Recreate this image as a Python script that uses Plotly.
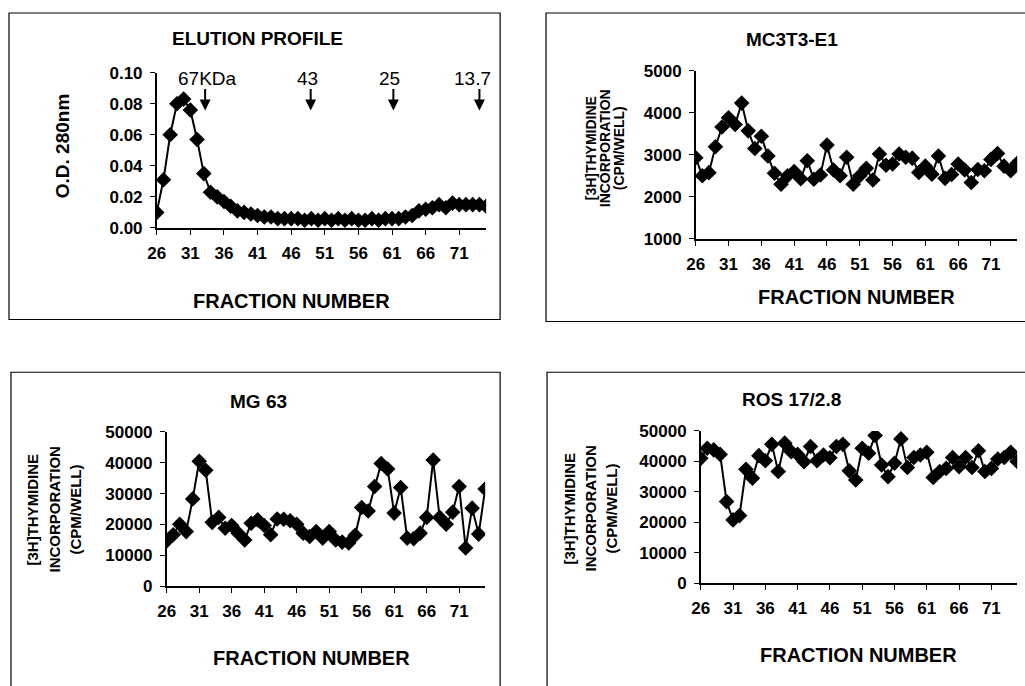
import plotly.graph_objects as go

fractions = list(range(26, 76))
tick_fractions = [26, 31, 36, 41, 46, 51, 56, 61, 66, 71]

od_280 = [0.010, 0.031, 0.060, 0.080, 0.083, 0.076, 0.057, 0.035, 0.023, 0.020,
          0.017, 0.014, 0.011, 0.010, 0.009, 0.008, 0.007, 0.007, 0.006, 0.006,
          0.006, 0.006, 0.005, 0.006, 0.005, 0.006, 0.005, 0.006, 0.005, 0.006,
          0.005, 0.005, 0.006, 0.005, 0.006, 0.006, 0.006, 0.007, 0.008, 0.011,
          0.012, 0.013, 0.015, 0.013, 0.016, 0.015, 0.015, 0.015, 0.015, 0.014]

mc3t3_e1 = [2930, 2500, 2575, 3190, 3660, 3880, 3720, 4230, 3570, 3150,
            3440, 2970, 2560, 2300, 2500, 2600, 2430, 2860, 2420, 2520,
            3230, 2640, 2500, 2940, 2300, 2500, 2680, 2400, 3020, 2750,
            2780, 3020, 2940, 2920, 2580, 2730, 2540, 2970, 2440, 2530,
            2780, 2640, 2340, 2650, 2620, 2890, 3030, 2730, 2620, 2800]

mg_63 = [14700, 16700, 20100, 17700, 28300, 40500, 37600, 20700, 22300, 18800,
         19700, 17200, 15000, 20400, 21500, 19700, 16700, 21800, 21700, 21200,
         20100, 17200, 16100, 17700, 15600, 17700, 15000, 14300, 14000, 16500,
         25500, 24400, 32300, 39800, 38000, 23700, 32000, 15600, 15400, 17200,
         22300, 40900, 22300, 20100, 24000, 32300, 12400, 25300, 16900, 31500]

ros_17_2_8 = [41000, 44300, 43800, 42300, 26800, 20800, 22200, 37400, 34500, 41900,
              40200, 45600, 36700, 46000, 43200, 42300, 39900, 44900, 40200, 42100,
              41200, 44900, 45600, 36900, 33900, 44300, 42700, 48500, 38800, 35000,
              39400, 47400, 38000, 41300, 42100, 43000, 34700, 36700, 37700, 41300,
              38300, 41300, 38000, 43500, 36700, 37700, 40800, 41300, 43000, 40000]

marker_labels = ["67KDa", "43", "25", "13.7"]
marker_fractions = [33.2, 48.9, 61.2, 74.0]

W, H = 1025, 686
FONT = "Arial, Liberation Sans, sans-serif"
OFF, SX, SY = 8, 0.993, 0.977


def px(x):
    return ((x - OFF) / SX) / W


def py(y):
    return 1 - ((y - OFF) / SY) / H


fig = go.Figure()

panels = [
    dict(y=od_280, xd=(156, 486), yd=(72, 228), yr=[0, 0.10],
         yt=[0, 0.02, 0.04, 0.06, 0.08, 0.10], fmt=".2f"),
    dict(y=mc3t3_e1, xd=(696, 1018), yd=(70, 239), yr=[1000, 5000],
         yt=[1000, 2000, 3000, 4000, 5000], fmt="d"),
    dict(y=mg_63, xd=(166, 485), yd=(433, 588), yr=[0, 50000],
         yt=[0, 10000, 20000, 30000, 40000, 50000], fmt="d"),
    dict(y=ros_17_2_8, xd=(701, 1018), yd=(432, 585), yr=[0, 50000],
         yt=[0, 10000, 20000, 30000, 40000, 50000], fmt="d"),
]

layout_axes = {}
for i, p in enumerate(panels, start=1):
    xa = "x" if i == 1 else f"x{i}"
    ya = "y" if i == 1 else f"y{i}"
    fig.add_trace(go.Scatter(
        x=fractions, y=p["y"], xaxis=xa, yaxis=ya, mode="lines+markers",
        line=dict(color="black", width=2),
        marker=dict(symbol="diamond", size=12, color="black"),
        showlegend=False, hoverinfo="skip"))
    xk = "xaxis" if i == 1 else f"xaxis{i}"
    yk = "yaxis" if i == 1 else f"yaxis{i}"
    layout_axes[xk] = dict(
        domain=[px(p["xd"][0]), px(p["xd"][1])], range=[26, 75],
        anchor=ya, showgrid=False, zeroline=False, showline=True,
        linecolor="black", linewidth=1.5, ticks="outside", ticklen=5,
        tickcolor="black", tickvals=tick_fractions,
        ticklabelstandoff=4,
        tickfont=dict(family=FONT, size=17, color="black", weight="bold"))
    layout_axes[yk] = dict(
        domain=[py(p["yd"][1]), py(p["yd"][0])], range=p["yr"],
        anchor=xa, showgrid=False, zeroline=False, showline=True,
        linecolor="black", linewidth=1.5, ticks="outside", ticklen=5,
        tickcolor="black", tickvals=p["yt"], tickformat=p["fmt"],
        ticklabelstandoff=4,
        tickfont=dict(family=FONT, size=17, color="black", weight="bold"))

annotations = []


def text_ann(t, x, y, size, bold=True, angle=0):
    annotations.append(dict(
        text=t, x=px(x), y=py(y), xref="paper", yref="paper",
        showarrow=False, xanchor="center", yanchor="middle", textangle=angle,
        font=dict(family=FONT, size=size, color="black",
                  weight="bold" if bold else "normal")))


# panel titles
text_ann("ELUTION PROFILE", 257, 38, 19)
text_ann("MC3T3-E1", 792, 39, 19)
text_ann("MG 63", 258, 402, 19)
text_ann("ROS 17/2.8", 792, 400, 19)

# x titles
text_ann("FRACTION NUMBER", 291, 301, 20)
text_ann("FRACTION NUMBER", 857, 297, 20)
text_ann("FRACTION NUMBER", 311, 660, 20)
text_ann("FRACTION NUMBER", 859, 657, 20)

# y titles
text_ann("O.D. 280nm", 61, 145, 19, angle=-90)
ylines = ["[3H]THYMIDINE", "INCORPORATION", "(CPM/WELL)"]
for xs, yc, fs in [((591, 605, 619), 148, 14), ((32, 54, 75), 511, 15),
                   ((570, 591, 612), 510, 15)]:
    for t, xx in zip(ylines, xs):
        text_ann(t, xx, yc, fs, angle=-90)

# molecular weight markers on elution profile
label_x = [33.6, 48.4, 60.6, 73.0]
for lab, lx, mx in zip(marker_labels, label_x, marker_fractions):
    annotations.append(dict(
        text=lab, x=lx, y=0.0965, xref="x", yref="y", showarrow=False,
        xanchor="center", yanchor="middle",
        font=dict(family=FONT, size=19, color="black")))
    annotations.append(dict(
        text="", x=mx, y=0.0756, xref="x", yref="y", showarrow=True,
        ax=0, ay=-23, arrowhead=2, arrowsize=1.1, arrowwidth=2,
        arrowcolor="black"))

# panel frames
shapes = []
for (x0, y0, x1, y1) in [(8, 12, 500, 320), (546, 12, 1040, 322),
                         (10, 373, 500, 710), (547, 373, 1040, 710)]:
    shapes.append(dict(type="rect", xref="paper", yref="paper",
                       x0=px(x0), x1=px(x1), y0=py(y1), y1=py(y0),
                       line=dict(color="black", width=1.2),
                       fillcolor="rgba(0,0,0,0)"))

fig.update_layout(
    width=W, height=H, autosize=False, margin=dict(l=0, r=0, t=0, b=0),
    paper_bgcolor="white", plot_bgcolor="white",
    annotations=annotations, shapes=shapes, **layout_axes)

fig.write_html("out.html",
               config={"displayModeBar": False, "responsive": False},
               post_script="document.body.style.margin='0';")
